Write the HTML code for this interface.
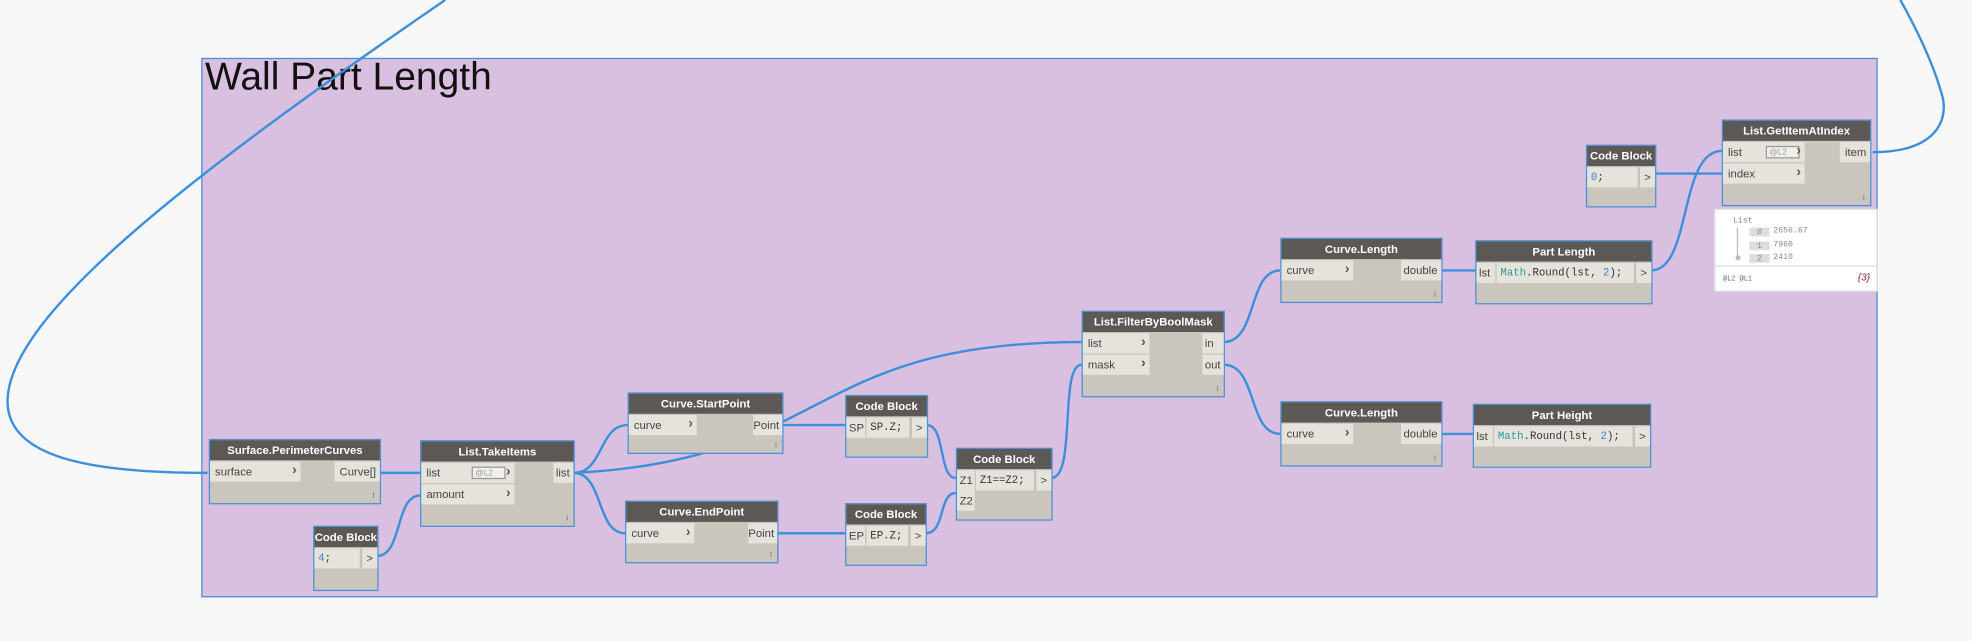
<!DOCTYPE html>
<html><head><meta charset="utf-8">
<style>
html,body{margin:0;padding:0;width:1972px;height:641px;overflow:hidden;background:#f8f8f8;}
#s{position:absolute;left:0;top:0;width:1568px;height:510px;transform:scale(1.25765);transform-origin:0 0;font-family:"Liberation Sans",sans-serif;}
.g{position:absolute;left:160px;top:46px;width:1333px;height:429px;background:#d9c0e0;border:1.5px solid #4a8fd6;box-sizing:border-box;}
.gt{position:absolute;left:163px;top:43px;font-size:31px;color:#111;white-space:nowrap;}
.n{position:absolute;background:#cbc6bd;border:1.6px solid #4a90d9;box-sizing:border-box;}
.h{position:absolute;left:0;right:0;top:0;height:16px;background:#5c5855;color:#fff;font-weight:bold;font-size:9px;line-height:16px;text-align:center;white-space:nowrap;}
.r{position:absolute;height:16px;background:#e6e3dd;font-size:9px;line-height:16px;color:#444;padding-left:4px;box-sizing:border-box;white-space:nowrap;}
.ar{position:absolute;right:3px;top:0;font-weight:bold;color:#555;font-size:11px;line-height:15px;}
.o{position:absolute;height:16px;background:#e6e3dd;font-size:9px;line-height:16px;color:#444;text-align:right;padding-right:3px;box-sizing:border-box;right:0;}
.c{position:absolute;height:16px;background:#e6e3dd;font-family:"Liberation Mono",monospace;font-size:8.5px;line-height:16px;color:#333;padding-left:3px;box-sizing:border-box;white-space:nowrap;overflow:hidden;}
.gt2{position:absolute;height:16px;width:13px;background:#e6e3dd;border-left:1px solid #bbb;font-size:9px;line-height:16px;text-align:center;color:#444;right:0;box-sizing:border-box;}
.lb{position:absolute;height:16px;background:#e6e3dd;font-size:9px;line-height:16px;color:#444;padding-left:2px;box-sizing:border-box;left:0;border-right:1px solid #c8c4bc;white-space:nowrap;}
.tk{position:absolute;right:4px;bottom:2px;font-size:7px;color:#777;}
.lv{position:absolute;width:27px;height:10px;border:1px solid #999;background:#f2f0ec;font-size:6.5px;color:#999;line-height:10px;padding-left:2px;box-sizing:border-box;top:3px;}
.b{color:#3a7fd0}.t{color:#2a9a9a}
</style></head><body><div id="s">
<div class="g"></div>
<div class="gt">Wall Part Length</div>
<svg width="1568" height="510" style="position:absolute;left:0;top:0" fill="none" stroke="#3d8fdb" stroke-width="1.9">
<path d="M165,376 C60,376 5,360 6,318 C8,250 150,140 354,0"/>
<path d="M1489,121 C1540,121 1550,95 1544,75 C1537,50 1525,25 1511,0"/>
<path d="M302,376 L334,376"/>
<path d="M300,442 C320,442 314,394 334,394"/>
<path d="M456,376 C480,376 476,338 499,338"/>
<path d="M456,376 C480,376 474,424 497,424"/>
<path d="M456,376 C660,366 640,272 860,272"/>
<path d="M622,338 L672,338"/>
<path d="M618,424 L672,424"/>
<path d="M737,338 C752,338 746,380 760,380"/>
<path d="M736,424 C752,424 746,392 760,392"/>
<path d="M836,380 C856,380 842,290 860,290"/>
<path d="M973,272 C1000,272 992,215 1018,215"/>
<path d="M973,290 C1000,290 992,345 1018,345"/>
<path d="M1146,215 L1173,215"/>
<path d="M1146,345 L1171,345"/>
<path d="M1313,215 C1345,215 1335,120 1369,120"/>
<path d="M1316,138 L1369,138"/>
</svg>

<div class="n" style="left:166px;top:349px;width:137px;height:52px">
<div class="h">Surface.PerimeterCurves</div>
<div class="r" style="left:0;top:17px;width:72px">surface<span class="ar">›</span></div>
<div class="o" style="top:17px;width:36px">Curve[]</div>
<div class="tk">ı</div></div>

<div class="n" style="left:334px;top:350px;width:123px;height:69px">
<div class="h">List.TakeItems</div>
<div class="r" style="left:0;top:17px;width:74px">list<span class="lv" style="left:40px">@L2</span><span class="ar">›</span></div>
<div class="r" style="left:0;top:34px;width:74px">amount<span class="ar">›</span></div>
<div class="o" style="top:17px;width:16px">list</div>
<div class="tk">ı</div></div>

<div class="n" style="left:249px;top:418px;width:52px;height:52px">
<div class="h">Code Block</div>
<div class="c" style="left:0;top:17px;width:36px"><span class="b">4</span>;</div>
<div class="gt2" style="top:17px">&gt;</div></div>

<div class="n" style="left:499px;top:312px;width:124px;height:49px">
<div class="h">Curve.StartPoint</div>
<div class="r" style="left:0;top:17px;width:54px">curve<span class="ar">›</span></div>
<div class="o" style="top:17px;width:23px">Point</div>
<div class="tk">ı</div></div>

<div class="n" style="left:497px;top:398px;width:122px;height:50px">
<div class="h">Curve.EndPoint</div>
<div class="r" style="left:0;top:17px;width:54px">curve<span class="ar">›</span></div>
<div class="o" style="top:17px;width:23px">Point</div>
<div class="tk">ı</div></div>

<div class="n" style="left:672px;top:314px;width:66px;height:50px">
<div class="h">Code Block</div>
<div class="lb" style="top:17px;width:16px">SP</div>
<div class="c" style="left:16px;top:17px;width:34px">SP.Z;</div>
<div class="gt2" style="top:17px">&gt;</div></div>

<div class="n" style="left:672px;top:400px;width:65px;height:50px">
<div class="h">Code Block</div>
<div class="lb" style="top:17px;width:16px">EP</div>
<div class="c" style="left:16px;top:17px;width:33px">EP.Z;</div>
<div class="gt2" style="top:17px">&gt;</div></div>

<div class="n" style="left:760px;top:356px;width:77px;height:58px">
<div class="h">Code Block</div>
<div class="lb" style="top:17px;width:15px">Z1</div>
<div class="lb" style="top:33px;width:15px">Z2</div>
<div class="c" style="left:15px;top:17px;width:46px">Z1==Z2;</div>
<div class="gt2" style="top:17px">&gt;</div></div>

<div class="n" style="left:860px;top:247px;width:114px;height:69px">
<div class="h">List.FilterByBoolMask</div>
<div class="r" style="left:0;top:17px;width:53px">list<span class="ar">›</span></div>
<div class="r" style="left:0;top:34px;width:53px">mask<span class="ar">›</span></div>
<div class="o" style="top:17px;width:17px;text-align:left;padding-left:2px">in</div>
<div class="o" style="top:34px;width:17px;text-align:left;padding-left:2px">out</div>
<div class="tk">ı</div></div>

<div class="n" style="left:1018px;top:189px;width:129px;height:52px">
<div class="h">Curve.Length</div>
<div class="r" style="left:0;top:17px;width:57px">curve<span class="ar">›</span></div>
<div class="o" style="top:17px;width:32px">double</div>
<div class="tk">ı</div></div>

<div class="n" style="left:1018px;top:319px;width:129px;height:52px">
<div class="h">Curve.Length</div>
<div class="r" style="left:0;top:17px;width:57px">curve<span class="ar">›</span></div>
<div class="o" style="top:17px;width:32px">double</div>
<div class="tk">ı</div></div>

<div class="n" style="left:1173px;top:191px;width:141px;height:51px">
<div class="h">Part Length</div>
<div class="lb" style="top:17px;width:16px">lst</div>
<div class="c" style="left:16px;top:17px;width:109px"><span class="t">Math</span>.Round(lst, <span class="b">2</span>);</div>
<div class="gt2" style="top:17px">&gt;</div></div>

<div class="n" style="left:1171px;top:321px;width:142px;height:51px">
<div class="h">Part Height</div>
<div class="lb" style="top:17px;width:16px">lst</div>
<div class="c" style="left:16px;top:17px;width:110px"><span class="t">Math</span>.Round(lst, <span class="b">2</span>);</div>
<div class="gt2" style="top:17px">&gt;</div></div>

<div class="n" style="left:1261px;top:115px;width:56px;height:50px">
<div class="h">Code Block</div>
<div class="c" style="left:0;top:17px;width:40px"><span class="b">0</span>;</div>
<div class="gt2" style="top:17px">&gt;</div></div>

<div class="n" style="left:1369px;top:95px;width:119px;height:69px">
<div class="h">List.GetItemAtIndex</div>
<div class="r" style="left:0;top:17px;width:65px">list<span class="lv" style="left:34px">@L2</span><span class="ar">›</span></div>
<div class="r" style="left:0;top:34px;width:65px">index<span class="ar">›</span></div>
<div class="o" style="top:17px;width:24px">item</div>
<div class="tk">ı</div></div>

<div style="position:absolute;left:1363px;top:166px;width:130px;height:66px;background:#fff;border:1px solid #ddd;box-sizing:border-box;font-family:'Liberation Mono',monospace;font-size:6.5px;color:#888;">
<div style="position:absolute;left:14px;top:5px">List</div>
<div style="position:absolute;left:17px;top:14px;width:1px;height:23px;background:#bbb"></div>
<div style="position:absolute;left:15.5px;top:36px;width:4px;height:4px;border-radius:2px;background:#bbb"></div>
<div style="position:absolute;left:27px;top:14px;width:16px;height:7px;background:#ddd;text-align:center;line-height:7px;font-style:italic">0</div><div style="position:absolute;left:46px;top:13px">2656.67</div>
<div style="position:absolute;left:27px;top:25px;width:16px;height:7px;background:#ddd;text-align:center;line-height:7px">1</div><div style="position:absolute;left:46px;top:24px">7960</div>
<div style="position:absolute;left:27px;top:35px;width:16px;height:7px;background:#ddd;text-align:center;line-height:7px">2</div><div style="position:absolute;left:46px;top:34px">2410</div>
<div style="position:absolute;left:0;right:0;top:44px;height:1px;background:#ddd"></div>
<div style="position:absolute;left:6px;top:51px;font-size:5.5px;color:#666">@L2 @L1</div>
<div style="position:absolute;right:5px;top:49px;font-size:8px;color:#8a2a2a;font-style:italic;font-family:'Liberation Sans',sans-serif">{3}</div>
</div>
</div></body></html>
